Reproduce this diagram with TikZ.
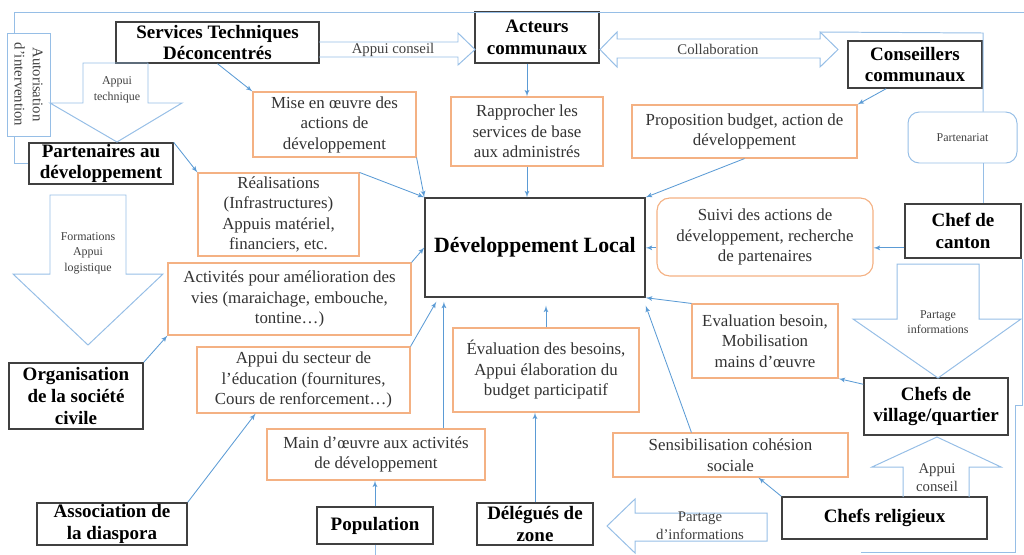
\documentclass[tikz,border=0pt]{standalone}
\usepackage{fontspec}
\setmainfont{Liberation Serif}
\usetikzlibrary{arrows}
\definecolor{boxgray}{RGB}{64,64,64}
\definecolor{peach}{RGB}{244,177,131}
\definecolor{linkblue}{RGB}{91,155,213}
\definecolor{paleblue}{RGB}{150,190,230}
\tikzset{wh/.style 2 args = {minimum width=#1*0.025cm, minimum height=#2*0.025cm}}

\begin{document}
\begin{tikzpicture}[x=0.025cm, y=-0.025cm]

\tikzset{actor/.style = {shape=rectangle, draw=boxgray, line width=1pt, inner sep=0pt, align=center, font=\fontsize{13.5}{15.5}\selectfont\bfseries}}
\tikzset{action/.style = {shape=rectangle, draw=peach, line width=0.8pt, inner sep=0pt, align=center, text=black!80, font=\fontsize{12}{14.6}\selectfont}}
\tikzset{edge/.style = {->, > = latex', draw=linkblue, line width=0.6pt}}
\tikzset{bigarrow/.style = {draw=paleblue, line width=0.7pt}}
\tikzset{tag/.style = {align=center, text=black!75, font=\fontsize{8.5}{11}\selectfont}}
\tikzset{tagbig/.style = {align=center, text=black!75, font=\fontsize{10.5}{13}\selectfont}}

\useasboundingbox (0,0) rectangle (1024,554);

% actors
\node[actor, wh={203}{41}] (std) at (217.5,42.5) {Services Techniques\\Déconcentrés};
\node[actor, wh={124}{51}] (acteurs) at (537,37.5) {Acteurs\\communaux};
\node[actor, wh={134}{47}] (conseillers) at (915,64.5) {Conseillers\\communaux};
\node[actor, wh={144}{41}] (partners) at (101,163.5) {Partenaires au\\développement};
\node[actor, wh={134}{66}] (osc) at (76,396) {Organisation\\de la société\\civile};
\node[actor, wh={150}{42}] (diaspora) at (112,524) {Association de\\la diaspora};
\node[actor, wh={116}{37}] (population) at (375,525.5) {Population};
\node[actor, wh={116}{42}] (delegues) at (535,524) {Délégués de\\zone};
\node[actor, wh={205}{42}] (religieux) at (884.5,518) {Chefs religieux};
\node[actor, wh={144}{57}] (village) at (936,406.5) {Chefs de\\village/quartier};
\node[actor, wh={116}{54}] (canton) at (963,231) {Chef de\\canton};
\node[actor, wh={220}{99}, font=\fontsize{15.5}{18}\selectfont\bfseries] (devloc) at (535,247.5) {Développement Local};
\node[tagbig, draw=paleblue, line width=0.7pt, inner sep=0pt, wh={103}{43}, rotate=-90] (autor) at (28.5,84.5) {Autorisation\\d’intervention};
\node[tag, draw=paleblue, line width=0.7pt, rounded corners=8pt, wh={109}{51}] (partenariat) at (962.5,137.5) {Partenariat};

% actions
\node[action, wh={163}{65}] (miseoe) at (334.5,124.5) {Mise en œuvre des\\actions de\\développement};
\node[action, wh={152}{69}] (rapp) at (527,131.5) {Rapprocher les\\services de base\\aux administrés};
\node[action, wh={225}{53}] (propb) at (744.5,131.5) {Proposition budget, action de\\développement};
\node[action, wh={161}{83}] (realis) at (278.5,214.5) {Réalisations\\(Infrastructures)\\Appuis matériel,\\financiers, etc.};
\node[action, wh={243}{72}] (activ) at (289.5,299) {Activités pour amélioration des\\vies (maraichage, embouche,\\tontine…)};
\node[action, wh={213}{66}] (educ) at (303.5,380) {Appui du secteur de\\l’éducation (fournitures,\\Cours de renforcement…)};
\node[action, wh={218}{51}] (mainoe) at (376,454.5) {Main d’œuvre aux activités\\de développement};
\node[action, wh={186}{84}] (evaldb) at (546,370) {Évaluation des besoins,\\Appui élaboration du\\budget participatif};
\node[action, wh={216}{78}, rounded corners=9pt] (suivi) at (765,237) {Suivi des actions de\\développement, recherche\\de partenaires};
\node[action, wh={146}{74}] (evalb) at (765,341) {Evaluation besoin,\\Mobilisation\\mains d’œuvre};
\node[action, wh={235}{44}] (sensib) at (730.5,455) {Sensibilisation cohésion\\sociale};

% block arrows
\draw[bigarrow] (83,63) -- (148,63) -- (148,103) -- (182,103) -- (117,142) -- (50,103) -- (83,103) -- cycle;
\draw[bigarrow] (50,195) -- (126,195) -- (126,274) -- (163,274) -- (88,345) -- (13,274) -- (50,274) -- cycle;
\draw[bigarrow] (319,42) -- (458,42) -- (458,33) -- (475,49.5) -- (458,65) -- (458,57) -- (319,57);
\draw[bigarrow] (600,49.5) -- (617,32) -- (617,39) -- (820,39) -- (820,32) -- (838,49.5) -- (820,67) -- (820,58) -- (617,58) -- (617,67) -- cycle;
\draw[bigarrow] (897,264) -- (979,264) -- (979,319) -- (1021,319) -- (938,378) -- (853,319) -- (897,319) -- cycle;
\draw[bigarrow] (903,497) -- (903,467) -- (872,467) -- (937,437) -- (1001,467) -- (969,467) -- (969,497);
\draw[bigarrow] (767,513) -- (635,513) -- (635,499) -- (607,526) -- (635,553) -- (635,541) -- (767,541) -- cycle;
\node[tag] (lbltech) at (117,90) {Appui\\technique};
\node[tag] (lbllog) at (88,253) {Formations\\Appui\\logistique};
\node[tagbig] (lblconseil) at (393,50) {Appui conseil};
\node[tagbig] (lblcollab) at (718,49) {Collaboration};
\node[tag] (lblinfo) at (938,322) {Partage\\informations};
\node[tagbig] (lblappui) at (937,478) {Appui\\conseil};
\node[tagbig] (lblpartage) at (700,526) {Partage\\d’informations};

% frame
\coordinate (tl) at (14,12);
\coordinate (tr) at (1024,12);
\coordinate (rr) at (1022,405);
\coordinate (br) at (1015,552);
\coordinate (bl) at (861,552);
\coordinate (cp) at (983,33);
\draw[bigarrow] (tl |- autor.west) -- (tl) -- (tr);
\draw[bigarrow] (tl |- autor.east) -- (tl |- partners.west) -- (partners.west);
\draw[bigarrow] (canton.south east -| rr) -- (rr) -- (br |- rr) -- (br) -- (bl);
\draw[bigarrow] (population.south) -- ++(0,10);
\draw[bigarrow] (820,32) -- (cp) -- (cp |- partenariat.north);
\draw[bigarrow] (partenariat.south -| cp) -- (canton.north -| cp);

% edges
\draw[edge] (std.south) -- (miseoe.north west);
\draw[edge] (miseoe.south east) -- (devloc.north west);
\draw[edge] (partners.north east) -- (realis.north west);
\draw[edge] (realis.north east) -- (devloc.north west);
\draw[edge] (rapp.north |- acteurs.south) -- (rapp.north);
\draw[edge] (rapp.south) -- (rapp.south |- devloc.north);
\draw[edge] (conseillers.220) -- (propb.north east);
\draw[edge] (propb.south) -- (devloc.north east);
\draw[edge] (canton.196) -- (canton.196 -| suivi.east);
\draw[edge] (canton.196 -| suivi.west) -- (canton.196 -| devloc.east);
\draw[edge] (evalb.north west) -- (devloc.south east);
\draw[edge] (village.163) -- (evalb.south east);
\draw[edge] (religieux.north west) -- (sensib.-39);
\draw[edge] (sensib.150) -- ([yshift=-0.2cm]devloc.south east);
\draw[edge] (evaldb.north) -- ([yshift=-0.2cm]evaldb.north |- devloc.south);
\draw[edge] (mainoe.21) -- ([yshift=-0.1cm]mainoe.21 |- devloc.south);
\draw[edge] (educ.north east) -- ([xshift=0.3cm,yshift=-0.1cm]devloc.south west);
\draw[edge] (activ.north east) -- (devloc.west);
\draw[edge] (osc.north east) -- (activ.south west);
\draw[edge] (diaspora.north east) -- (educ.215);
\draw[edge] (population.north) -- (population.north |- mainoe.south);
\draw[edge] (delegues.north) -- (delegues.north |- evaldb.south);

\end{tikzpicture}
\end{document}
